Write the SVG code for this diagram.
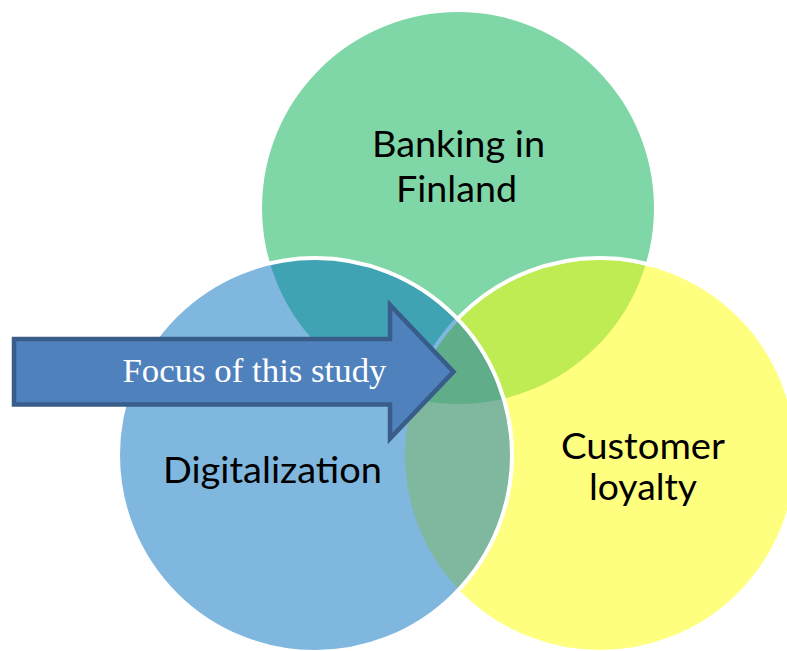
<svg xmlns="http://www.w3.org/2000/svg" width="787" height="651" viewBox="0 0 787 651">
  <style>
    .lbl { font-family: Lato, "Open Sans", "Liberation Sans", sans-serif; font-size: 37px; fill: #000000; text-anchor: middle; }
    .focus { font-family: "Liberation Serif", "DejaVu Serif", serif; font-size: 33px; fill: #ffffff; }
    .circ { fill-opacity: 0.5; }
    .ring { stroke: #ffffff; stroke-width: 4; }
  </style>
  <rect x="0" y="0" width="787" height="651" fill="#ffffff"/>
  <g id="node-banking">
    <circle class="circ" cx="458" cy="208" r="196" fill="#00B050"/>
  </g>
  <g id="node-loyalty">
    <circle class="circ ring" cx="600" cy="455" r="197" fill="#FFFF00"/>
  </g>
  <g id="node-digitalization">
    <circle class="circ ring" cx="315" cy="455" r="197" fill="#0070C0"/>
  </g>
  <g id="connectors">
    <g id="focus-arrow">
      <polygon points="14,339 390,339 390,305 453.5,371.7 390,438.5 390,404.5 14,404.5" fill="#4F81BD" stroke="#385D8A" stroke-width="4.5" stroke-linejoin="miter"/>
      <text class="focus" x="122.5" y="382" textLength="264" lengthAdjust="spacingAndGlyphs">Focus of this study</text>
    </g>
  </g>
  <g id="labels">
    <text class="lbl" x="458.5" y="157" textLength="173" lengthAdjust="spacingAndGlyphs">Banking in</text>
    <text class="lbl" x="456.5" y="202" textLength="121" lengthAdjust="spacingAndGlyphs">Finland</text>
    <text class="lbl" x="272.5" y="483" textLength="219" lengthAdjust="spacingAndGlyphs">Digitalization</text>
    <text class="lbl" x="643" y="459" textLength="164" lengthAdjust="spacingAndGlyphs">Customer</text>
    <text class="lbl" x="643" y="500" textLength="108" lengthAdjust="spacingAndGlyphs">loyalty</text>
  </g>
</svg>
